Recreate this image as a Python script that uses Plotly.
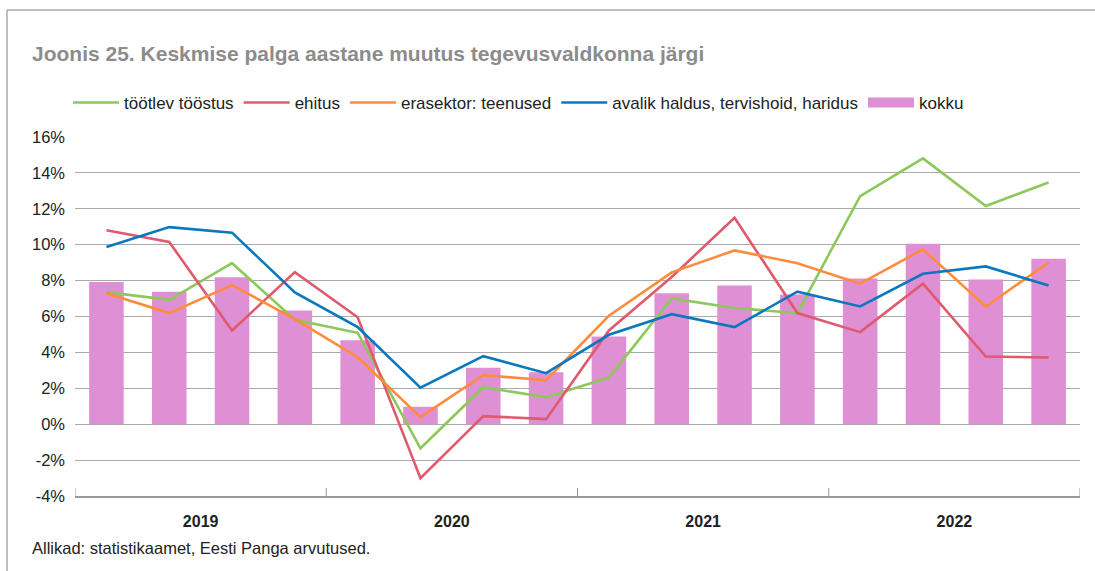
import plotly.graph_objects as go

years = ["2019", "2020", "2021", "2022"]
quarters_per_year = 4
x_idx = list(range(len(years) * quarters_per_year))

kokku = [7.92, 7.38, 8.18, 6.34, 4.68, 0.97, 3.14, 2.90, 4.89, 7.30, 7.73, 7.23, 8.12, 10.05, 8.06, 9.22]
tootlev = [7.36, 6.93, 8.97, 5.82, 5.09, -1.34, 2.06, 1.50, 2.60, 7.01, 6.47, 6.19, 12.71, 14.81, 12.16, 13.46]
ehitus = [10.80, 10.15, 5.22, 8.47, 5.96, -3.01, 0.45, 0.28, 5.22, 8.20, 11.50, 6.19, 5.13, 7.83, 3.77, 3.72]
erasektor = [7.30, 6.19, 7.75, 5.85, 3.73, 0.39, 2.73, 2.45, 6.04, 8.46, 9.68, 8.97, 7.83, 9.74, 6.56, 9.01]
avalik = [9.87, 10.98, 10.67, 7.34, 5.41, 2.03, 3.79, 2.84, 4.98, 6.13, 5.41, 7.38, 6.56, 8.38, 8.79, 7.73]

y_ticks = [16, 14, 12, 10, 8, 6, 4, 2, 0, -2, -4]

names = ["töötlev tööstus", "ehitus", "erasektor: teenused", "avalik haldus, tervishoid, haridus", "kokku"]
colors = ["#8cc85a", "#e05a6e", "#ff8c3c", "#0a78be", "#df8fd3"]

FONT = "Liberation Sans, Arial, Helvetica"

fig = go.Figure()
for name, vals, col in zip(names[:4], [tootlev, ehitus, erasektor, avalik], colors[:4]):
    fig.add_trace(go.Scatter(x=x_idx, y=vals, mode="lines", name=name,
                             line=dict(color=col, width=2.6)))
fig.add_trace(go.Bar(x=x_idx, y=kokku, name=names[4], marker=dict(color=colors[4], line=dict(width=0)),
                     width=0.55, showlegend=False))
# legend entry for bars drawn as a wide swatch
fig.add_trace(go.Scatter(x=[None], y=[None], mode="lines", name=names[4],
                         line=dict(color=colors[4], width=20), hoverinfo="skip"))

# plot area in pixels
W, H = 1095, 571
L, R, T, B = 75, 15, 137, 75
pw, ph = W - L - R, H - T - B

def px_to_paper_x(px):
    return (px - L) / pw

def px_to_paper_y(py):
    return (H - B - py) / ph

shapes = []
# year separator ticks
for i in range(len(years) + 1):
    xb = i * quarters_per_year - 0.5
    shapes.append(dict(type="line", xref="x", yref="paper", x0=xb, x1=xb,
                       y0=0, y1=8 / ph, line=dict(color="#999999", width=1)))
# outer frame (top and left)
shapes.append(dict(type="line", xref="paper", yref="paper",
                   x0=px_to_paper_x(7), x1=px_to_paper_x(1095),
                   y0=px_to_paper_y(10), y1=px_to_paper_y(10),
                   line=dict(color="#aaaaaa", width=1.5)))
shapes.append(dict(type="line", xref="paper", yref="paper",
                   x0=px_to_paper_x(7), x1=px_to_paper_x(7),
                   y0=px_to_paper_y(10), y1=px_to_paper_y(571),
                   line=dict(color="#aaaaaa", width=1.5)))

annotations = [
    dict(text="<b>Joonis 25. Keskmise palga aastane muutus tegevusvaldkonna järgi</b>",
         xref="paper", yref="paper", x=px_to_paper_x(30), y=px_to_paper_y(54),
         xanchor="left", yanchor="middle", showarrow=False,
         font=dict(family=FONT, size=21, color="#8c8c8c")),
    dict(text="Allikad: statistikaamet, Eesti Panga arvutused.",
         xref="paper", yref="paper", x=px_to_paper_x(30), y=px_to_paper_y(548),
         xanchor="left", yanchor="middle", showarrow=False,
         font=dict(family=FONT, size=16.5, color="#222222")),
]

fig.update_layout(
    width=W, height=H,
    margin=dict(l=L, r=R, t=T, b=B, autoexpand=False),
    paper_bgcolor="white", plot_bgcolor="white",
    font=dict(family=FONT, size=16.5, color="#222222"),
    showlegend=True,
    legend=dict(orientation="h", x=px_to_paper_x(68), y=px_to_paper_y(103),
                xanchor="left", yanchor="middle", font=dict(size=17, color="#222222"),
                itemwidth=46, tracegroupgap=0, bgcolor="rgba(0,0,0,0)"),
    bargap=0.45,
    shapes=shapes,
    annotations=annotations,
    xaxis=dict(range=[-0.5, len(x_idx) - 0.5],
               tickvals=[i * quarters_per_year + 1.5 for i in range(len(years))],
               ticktext=["<b>%s</b>" % y for y in years],
               ticks="", showgrid=False, zeroline=False,
               showline=True, linecolor="#999999", linewidth=1.5,
               tickfont=dict(size=16, color="#222222"), ticklabelstandoff=10),
    yaxis=dict(range=[-4, 16], tickvals=y_ticks,
               ticktext=["%d%%" % v for v in y_ticks],
               showgrid=True, gridcolor="#aaaaaa", gridwidth=1,
               zeroline=False, showline=False, ticks="",
               tickfont=dict(size=16.5, color="#222222"), ticklabelstandoff=9),
)

fig.write_html("out.html", config={"displayModeBar": False},
               post_script="document.body.style.margin='0';document.body.style.overflow='hidden';")
